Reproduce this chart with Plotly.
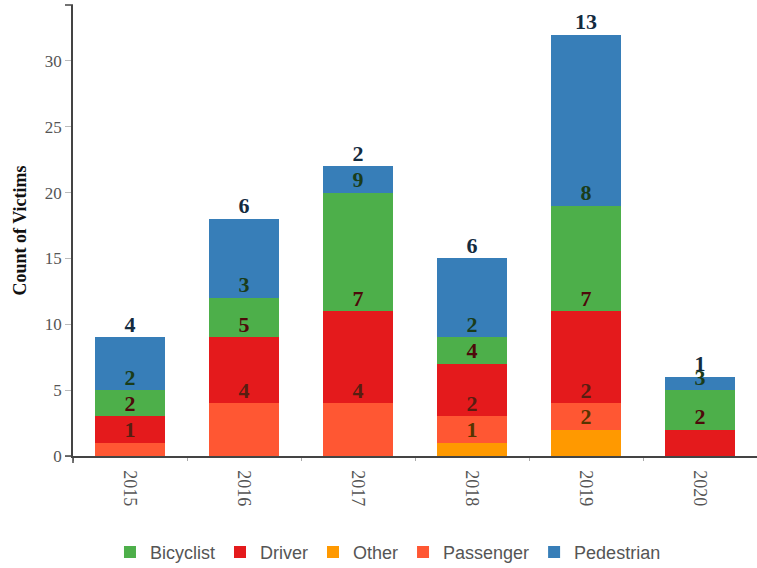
import plotly.graph_objects as go
import numpy as np

years = ["2015", "2016", "2017", "2018", "2019", "2020"]

# stacked bottom -> top
other = [0, 0, 0, 1, 2, 0]
passenger = [1, 4, 4, 2, 2, 0]
driver = [2, 5, 7, 4, 7, 2]
bicyclist = [2, 3, 9, 2, 8, 3]
pedestrian = [4, 6, 2, 6, 13, 1]

series_names = ["Other", "Passenger", "Driver", "Bicyclist", "Pedestrian"]
series_values = [other, passenger, driver, bicyclist, pedestrian]
colors = {"Other": "#ff9900", "Passenger": "#ff5733", "Driver": "#e41a1c",
          "Bicyclist": "#4daf4a", "Pedestrian": "#377eb8"}
label_colors = {"Other": "#573400", "Passenger": "#571e11", "Driver": "#4e090a",
                "Bicyclist": "#1a3c19", "Pedestrian": "#132b3f"}
legend_rank = {"Bicyclist": 1, "Driver": 2, "Other": 3, "Passenger": 4, "Pedestrian": 5}

fig = go.Figure()
cum = np.zeros(len(years))
label_traces = []
for name, vals in zip(series_names, series_values):
    vals = np.array(vals, dtype=float)
    fig.add_trace(go.Bar(
        x=years, y=vals, name=name,
        marker=dict(color=colors[name], line=dict(width=0)),
        legendrank=legend_rank[name],
    ))
    cum = cum + vals
    tops = [c if v > 0 else None for c, v in zip(cum, vals)]
    txt = [str(int(v)) if v > 0 else "" for v in vals]
    label_traces.append(go.Scatter(
        x=years, y=tops, mode="text", text=txt, textposition="top center",
        textfont=dict(family="Liberation Serif", size=22, color=label_colors[name], weight="bold"),
        showlegend=False, hoverinfo="skip", cliponaxis=False,
    ))
for t in label_traces:
    fig.add_trace(t)

ymax = max(cum) * 1.07

fig.update_layout(
    width=757, height=568,
    margin=dict(l=73, r=0, t=5, b=112, autoexpand=False),
    barmode="stack", bargap=0.39,
    plot_bgcolor="white", paper_bgcolor="white",
    showlegend=True,
    legend=dict(orientation="h", x=0.4605, xanchor="center", y=-0.2133, yanchor="middle",
                font=dict(family="Liberation Sans", size=18, color="#555"),
                traceorder="normal"),
    xaxis=dict(type="category", automargin=False, showline=True, linecolor="#444", linewidth=1.5,
               tickangle=90, tickson="boundaries", ticks="outside", ticklen=3,
               tickcolor="#aaa", showgrid=False, ticklabelstandoff=9,
               tickfont=dict(family="Liberation Serif", size=18, color="#555")),
    yaxis=dict(range=[0, ymax], dtick=5, showgrid=False, zeroline=False, automargin=False,
               showline=True, linecolor="#444", linewidth=1.5,
               ticks="outside", ticklen=6, tickcolor="#bbb",
               tickfont=dict(family="Liberation Serif", size=17, color="#555"),
               title=dict(text="Count of Victims", standoff=14,
                          font=dict(family="Liberation Serif", size=18, color="#111", weight="bold"))),
    shapes=[
        # outer tick at top of y axis
        dict(type="line", xref="paper", yref="paper", xsizemode="pixel", xanchor=0,
             x0=-8, x1=0, y0=1, y1=1, line=dict(color="#444", width=1.5)),
        # outer tick at bottom of y axis
        dict(type="line", xref="paper", yref="paper", xsizemode="pixel", xanchor=0,
             x0=-8, x1=0, y0=0, y1=0, line=dict(color="#444", width=1.5)),
        # outer tick at left end of x axis
        dict(type="line", xref="paper", yref="paper", ysizemode="pixel", yanchor=0,
             x0=0, x1=0, y0=-7, y1=0, line=dict(color="#444", width=1.5)),
    ],
)

fig.write_html("out.html", config={"displayModeBar": False},
               post_script="document.body.style.margin='0';document.body.style.overflow='hidden';")
